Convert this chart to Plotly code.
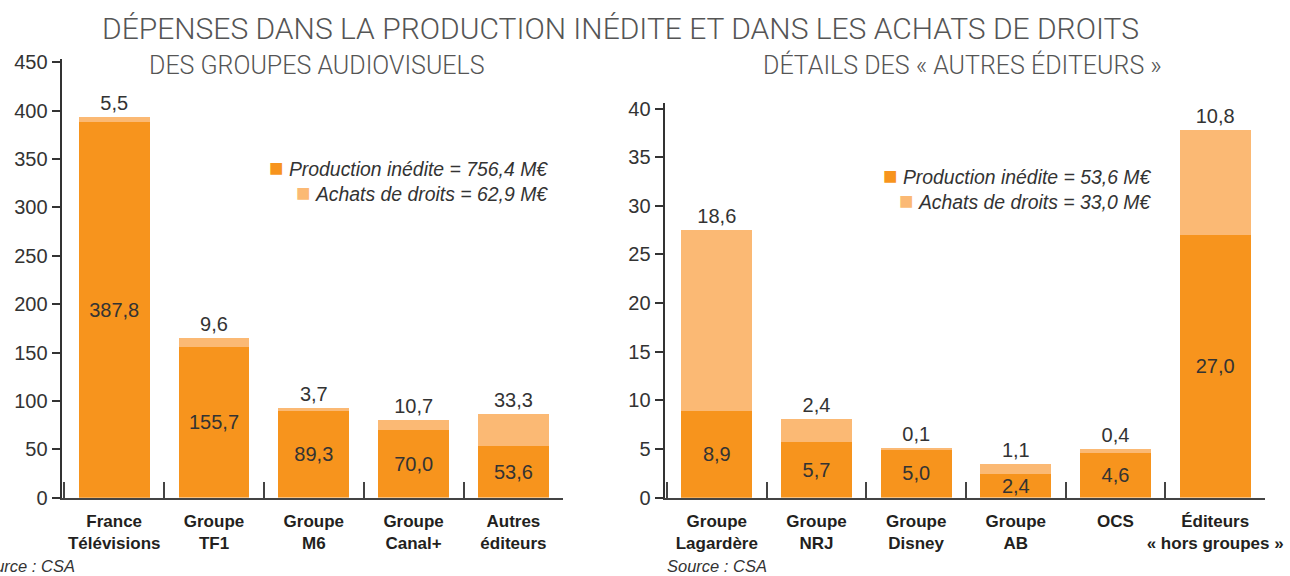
import plotly.graph_objects as go

# ---------------- data ----------------
left_categories = ["France<br>Télévisions", "Groupe<br>TF1", "Groupe<br>M6",
                   "Groupe<br>Canal+", "Autres<br>éditeurs"]
left_production = [387.8, 155.7, 89.3, 70.0, 53.6]
left_achats = [5.5, 9.6, 3.7, 10.7, 33.3]
left_ticks = [0, 50, 100, 150, 200, 250, 300, 350, 400, 450]

right_categories = ["Groupe<br>Lagardère", "Groupe<br>NRJ", "Groupe<br>Disney",
                    "Groupe<br>AB", "OCS", "Éditeurs<br>« hors groupes »"]
right_production = [8.9, 5.7, 5.0, 2.4, 4.6, 27.0]
right_achats = [18.6, 2.4, 0.1, 1.1, 0.4, 10.8]
right_ticks = [0, 5, 10, 15, 20, 25, 30, 35, 40]

title_text = "DÉPENSES DANS LA PRODUCTION INÉDITE ET DANS LES ACHATS DE DROITS"
left_subtitle = "DES GROUPES AUDIOVISUELS"
right_subtitle = "DÉTAILS DES « AUTRES ÉDITEURS »"
left_legend = ["Production inédite = 756,4 M€", "Achats de droits = 62,9 M€"]
right_legend = ["Production inédite = 53,6 M€", "Achats de droits = 33,0 M€"]
source_text = "Source : CSA"

# ---------------- style ----------------
DARK = "#F7941D"
LIGHT = "#FBB974"
TXT = "#333333"
W, H = 1290, 576


def fmt(v):
    return f"{v:.1f}".replace(".", ",")


def px_x(p):
    return p / W


def px_y(p):
    return (H - p) / H


val_font = dict(family="Liberation Sans", size=20, color=TXT)

fig = go.Figure()

for cats, prod, ach, xa, ya in [
    (left_categories, left_production, left_achats, "x", "y"),
    (right_categories, right_production, right_achats, "x2", "y2"),
]:
    fig.add_trace(go.Bar(
        x=cats, y=prod, marker_color=DARK, marker_line_width=0, width=0.71,
        text=[fmt(v) for v in prod], textposition="inside",
        insidetextanchor="middle", textfont=val_font, constraintext="none",
        textangle=0, xaxis=xa, yaxis=ya, showlegend=False, hoverinfo="x+y",
    ))
    fig.add_trace(go.Bar(
        x=cats, y=ach, marker_color=LIGHT, marker_line_width=0, width=0.71,
        text=[fmt(v) for v in ach], textposition="outside",
        textfont=val_font, constraintext="none", cliponaxis=False,
        textangle=0, xaxis=xa, yaxis=ya, showlegend=False, hoverinfo="x+y",
    ))

bottom = px_y(497.7)
xaxis_common = dict(
    type="category", showline=True, linecolor="#444", linewidth=2,
    ticks="inside", ticklen=16, tickwidth=1.5, tickcolor="#444",
    tickson="boundaries", showgrid=False, zeroline=False,
    tickangle=0, automargin=False, ticklabelstandoff=7,
    tickfont=dict(family="Liberation Sans", size=17, color="#231f20", weight=700),
)
yaxis_common = dict(
    showline=True, linecolor="#333", linewidth=1.5, ticks="outside",
    ticklen=9, tickwidth=1.5, tickcolor="#333", showgrid=False, zeroline=False,
    automargin=False,
    tickfont=dict(family="Liberation Sans", size=20, color=TXT),
)

fig.update_layout(
    width=W, height=H, margin=dict(l=0, r=0, t=0, b=0, autoexpand=False),
    paper_bgcolor="white", plot_bgcolor="white", barmode="stack",
    xaxis=dict(domain=[px_x(62.3), px_x(563.3)], range=[-0.52, 4.5], anchor="y", **xaxis_common),
    yaxis=dict(domain=[bottom, px_y(59.3)], range=[0, 453], tickvals=left_ticks,
               anchor="x", **yaxis_common),
    xaxis2=dict(domain=[px_x(665.3), px_x(1265)], range=[-0.517, 5.5], anchor="y2", **xaxis_common),
    yaxis2=dict(domain=[bottom, px_y(102.7)], range=[0, 40.6], tickvals=right_ticks,
                anchor="x2", **yaxis_common),
)

ann = []
ann.append(dict(text=title_text, x=px_x(620), y=px_y(28), xref="paper", yref="paper",
                xanchor="center", yanchor="middle", showarrow=False,
                font=dict(family="Roboto", size=30, color="#555", weight=300)))
ann.append(dict(text=left_subtitle, x=px_x(317), y=px_y(65), xref="paper", yref="paper",
                xanchor="center", yanchor="middle", showarrow=False,
                font=dict(family="Roboto", size=25, color="#555", weight=300)))
ann.append(dict(text=right_subtitle, x=px_x(962.5), y=px_y(65), xref="paper", yref="paper",
                xanchor="center", yanchor="middle", showarrow=False,
                font=dict(family="Roboto", size=25, color="#555", weight=300)))


def legend_entry(label, color, xr, yc):
    return dict(
        text=f"<span style='color:{color};font-size:24px;font-style:normal'>■</span> <i>{label}</i>",
        x=px_x(xr), y=px_y(yc), xref="paper", yref="paper", xanchor="right",
        yanchor="middle", showarrow=False,
        font=dict(family="Liberation Sans", size=19.4, color=TXT))


ann.append(legend_entry(left_legend[0], DARK, 550, 167))
ann.append(legend_entry(left_legend[1], LIGHT, 550, 192))
ann.append(legend_entry(right_legend[0], DARK, 1153, 175))
ann.append(legend_entry(right_legend[1], LIGHT, 1153, 200))

ann.append(dict(text=f"<i>{source_text}</i>", x=px_x(77), y=px_y(566), xref="paper", yref="paper",
                xanchor="right", yanchor="middle", showarrow=False,
                font=dict(family="Liberation Sans", size=16.5, color=TXT)))
ann.append(dict(text=f"<i>{source_text}</i>", x=px_x(665), y=px_y(566), xref="paper", yref="paper",
                xanchor="left", yanchor="middle", showarrow=False,
                font=dict(family="Liberation Sans", size=16.5, color=TXT)))

fig.update_layout(annotations=ann)

fig.write_html("out.html", config={"displayModeBar": False},
               post_script="document.body.style.margin='0';")
